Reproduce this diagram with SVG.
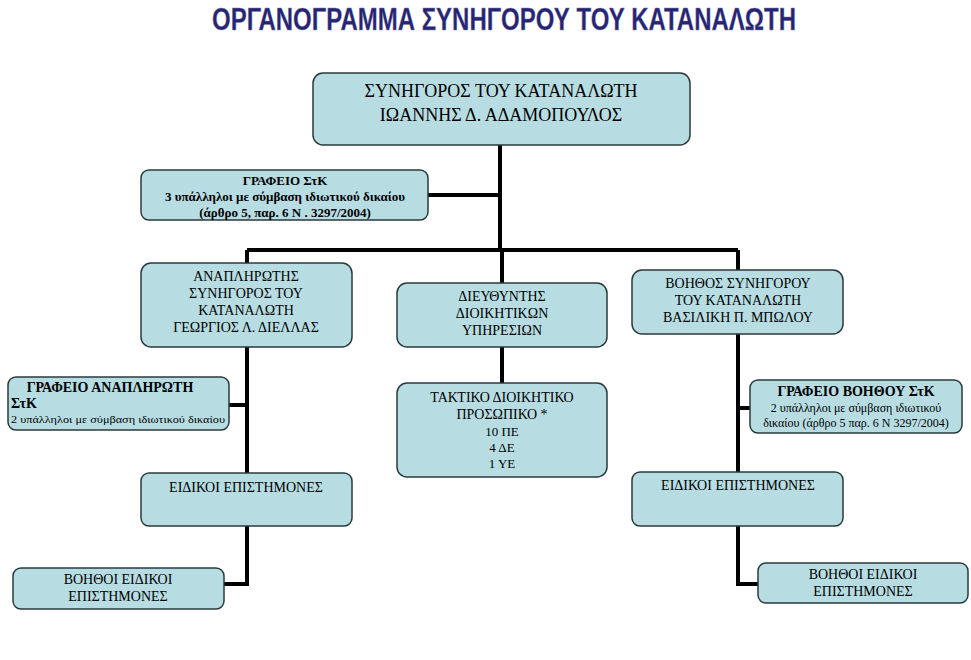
<svg xmlns="http://www.w3.org/2000/svg" width="971" height="660" viewBox="0 0 971 660">
<style>
.b{fill:#b7dde3;stroke:#2a3a3c;stroke-width:1.5}
.t{font-family:'Liberation Serif','DejaVu Serif','Times New Roman',serif;fill:#000}
.m{text-anchor:middle}
.s{text-anchor:start}
.c{stroke:#000;stroke-width:4;fill:none}
</style>
<rect width="971" height="660" fill="#fff"/>
<text x="504" y="30" font-family="Liberation Sans,sans-serif" font-weight="bold" font-size="31" fill="#25237a" text-anchor="middle" textLength="584" lengthAdjust="spacingAndGlyphs" stroke="#888" stroke-width="0.4">ΟΡΓΑΝΟΓΡΑΜΜΑ ΣΥΝΗΓΟΡΟΥ ΤΟΥ ΚΑΤΑΝΑΛΩΤΗ</text>
<g id="connectors">
<path class="c" d="M500 145V250M428 195H500M247 250H738M247 250V584H224M502 250V283M502 347V383M738 250V270M738 334V584H758M229 405H247M738 408H750"/>
</g>
<g id="top"><rect class="b" x="313" y="73" width="377" height="72" rx="10"/><text class="t m" font-size="18"><tspan x="501" y="97">ΣΥΝΗΓΟΡΟΣ ΤΟΥ ΚΑΤΑΝΑΛΩΤΗ</tspan><tspan x="501" y="121">ΙΩΑΝΝΗΣ Δ. ΑΔΑΜΟΠΟΥΛΟΣ</tspan></text></g>
<g id="grafeio"><rect class="b" x="141" y="170" width="287" height="50" rx="8"/><text class="t m" font-size="13" font-weight="bold"><tspan x="285" y="185">ΓΡΑΦΕΙΟ ΣτΚ</tspan><tspan x="285" y="201">3 υπάλληλοι με σύμβαση ιδιωτικού δικαίου</tspan><tspan x="285" y="217">(άρθρο 5, παρ. 6  Ν . 3297/2004)</tspan></text></g>
<g id="anaplirotis"><rect class="b" x="141" y="263" width="211" height="84" rx="10"/><text class="t m" font-size="14"><tspan x="246" y="281">ΑΝΑΠΛΗΡΩΤΗΣ</tspan><tspan x="246" y="298">ΣΥΝΗΓΟΡΟΣ  ΤΟΥ</tspan><tspan x="246" y="315">ΚΑΤΑΝΑΛΩΤΗ</tspan><tspan x="246" y="332">ΓΕΩΡΓΙΟΣ Λ. ΔΙΕΛΛΑΣ</tspan></text></g>
<g id="dieuthyntis"><rect class="b" x="397" y="283" width="210" height="64" rx="10"/><text class="t m" font-size="14"><tspan x="502" y="301">ΔΙΕΥΘΥΝΤΗΣ</tspan><tspan x="502" y="318">ΔΙΟΙΚΗΤΙΚΩΝ</tspan><tspan x="502" y="335">ΥΠΗΡΕΣΙΩΝ</tspan></text></g>
<g id="voithos"><rect class="b" x="632" y="270" width="211" height="64" rx="10"/><text class="t m" font-size="14"><tspan x="738" y="288">ΒΟΗΘΟΣ ΣΥΝΗΓΟΡΟΥ</tspan><tspan x="738" y="305">ΤΟΥ ΚΑΤΑΝΑΛΩΤΗ</tspan><tspan x="738" y="322">ΒΑΣΙΛΙΚΗ Π. ΜΠΩΛΟΥ</tspan></text></g>
<g id="graf-anapl"><rect class="b" x="8" y="377" width="221" height="53" rx="8"/><text class="t m" font-size="14" font-weight="bold" x="110" y="392">ΓΡΑΦΕΙΟ ΑΝΑΠΛΗΡΩΤΗ</text><text class="t s" font-size="14" font-weight="bold" x="11" y="408">ΣτΚ</text><text class="t s" font-size="11" x="11" y="423" textLength="214" lengthAdjust="spacingAndGlyphs">2 υπάλληλοι με σύμβαση ιδιωτικού δικαίου</text></g>
<g id="taktiko"><rect class="b" x="397" y="383" width="210" height="94" rx="10"/><text class="t m" font-size="14"><tspan x="502" y="402">ΤΑΚΤΙΚΟ ΔΙΟΙΚΗΤΙΚΟ</tspan><tspan x="502" y="419">ΠΡΟΣΩΠΙΚΟ *</tspan><tspan x="502" y="436" font-size="13">10 ΠΕ</tspan><tspan x="502" y="452" font-size="13">4 ΔΕ</tspan><tspan x="502" y="468" font-size="13">1 ΥΕ</tspan></text></g>
<g id="graf-voith"><rect class="b" x="750" y="380" width="212" height="53" rx="8"/><text class="t m" font-size="14" font-weight="bold" x="856" y="396">ΓΡΑΦΕΙΟ ΒΟΗΘΟΥ ΣτΚ</text><text class="t m" font-size="12"><tspan x="856" y="412">2 υπάλληλοι με σύμβαση ιδιωτικού</tspan><tspan x="856" y="427">δικαίου (άρθρο 5 παρ. 6 Ν 3297/2004)</tspan></text></g>
<g id="eidikoi-l"><rect class="b" x="141" y="473" width="211" height="53" rx="8"/><text class="t m" font-size="14" x="246" y="492">ΕΙΔΙΚΟΙ ΕΠΙΣΤΗΜΟΝΕΣ</text></g>
<g id="eidikoi-r"><rect class="b" x="632" y="472" width="211" height="54" rx="8"/><text class="t m" font-size="14" x="738" y="490">ΕΙΔΙΚΟΙ ΕΠΙΣΤΗΜΟΝΕΣ</text></g>
<g id="voithoi-l"><rect class="b" x="13" y="568" width="211" height="41" rx="8"/><text class="t m" font-size="14"><tspan x="118" y="584">ΒΟΗΘΟΙ ΕΙΔΙΚΟΙ</tspan><tspan x="118" y="601">ΕΠΙΣΤΗΜΟΝΕΣ</tspan></text></g>
<g id="voithoi-r"><rect class="b" x="758" y="563" width="210" height="40" rx="8"/><text class="t m" font-size="14"><tspan x="863" y="579">ΒΟΗΘΟΙ ΕΙΔΙΚΟΙ</tspan><tspan x="863" y="596">ΕΠΙΣΤΗΜΟΝΕΣ</tspan></text></g>
</svg>
